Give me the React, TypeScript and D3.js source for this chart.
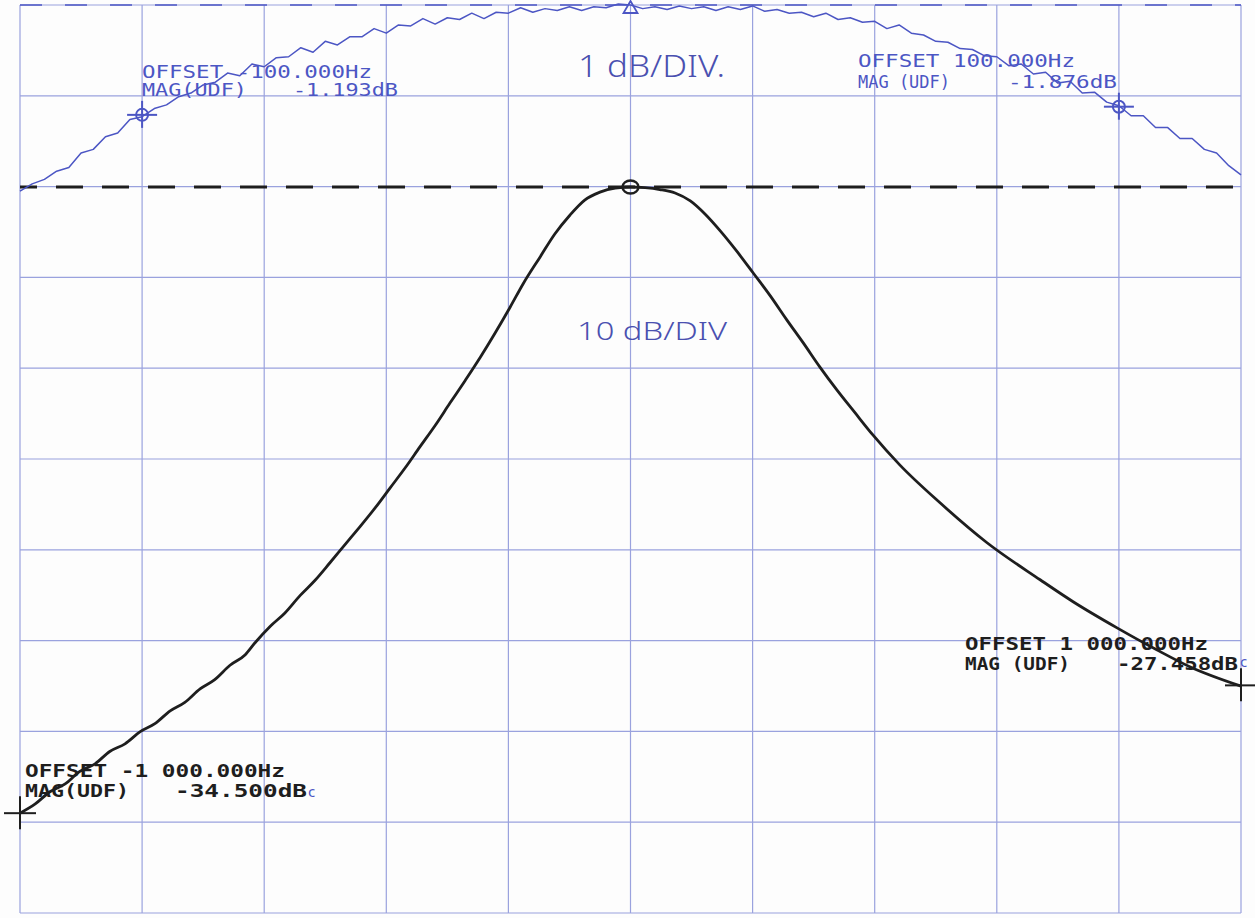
import React from "react";
import * as d3 from "d3";

// ---- data ----
const gridHz = [-1000, -800, -600, -400, -200, 0, 200, 400, 600, 800, 1000];
const gridDbBlue = [0, -1, -2, -3, -4, -5, -6, -7, -8, -9, -10];

// blue trace: offset Hz (span ±125 Hz), dB (1 dB/div, ref at top)
const blueTrace: [number, number][] = [
  [-125, -2.05], [-122.5, -1.97], [-120, -1.92], [-117.5, -1.83], [-115, -1.79], [-112.5, -1.63],
  [-110, -1.59], [-107.5, -1.45], [-105, -1.41], [-102.5, -1.26], [-100, -1.23], [-97.5, -1.14],
  [-95, -1.10], [-92.5, -1.01], [-90, -0.97], [-87.5, -0.88], [-85, -0.85], [-82.5, -0.75],
  [-80, -0.78], [-77.5, -0.65], [-75, -0.68], [-72.5, -0.58], [-70, -0.57], [-67.5, -0.47],
  [-65, -0.52], [-62.5, -0.40], [-60, -0.44], [-57.5, -0.35], [-55, -0.35], [-52.5, -0.26],
  [-50, -0.31], [-47.5, -0.22], [-45, -0.23], [-42.5, -0.15], [-40, -0.21], [-37.5, -0.14],
  [-35, -0.16], [-32.5, -0.09], [-30, -0.15], [-27.5, -0.08], [-25, -0.09], [-22.5, -0.03],
  [-20, -0.08], [-17.5, -0.04], [-15, -0.06], [-12.5, -0.02], [-10, -0.06], [-7.5, -0.02],
  [-5, -0.03], [-2.5, 0.01], [0, 0], [2.5, -0.04], [5, -0.02], [7.5, -0.05], [10, -0.01],
  [12.5, -0.04], [15, -0.02], [17.5, -0.06], [20, -0.02], [22.5, -0.05], [25, -0.01],
  [27.5, -0.07], [30, -0.05], [32.5, -0.09], [35, -0.08], [37.5, -0.13], [40, -0.09],
  [42.5, -0.16], [45, -0.14], [47.5, -0.19], [50, -0.18], [52.5, -0.26], [55, -0.22],
  [57.5, -0.31], [60, -0.33], [62.5, -0.40], [65, -0.41], [67.5, -0.48], [70, -0.49],
  [72.5, -0.56], [75, -0.57], [77.5, -0.67], [80, -0.65], [82.5, -0.76], [85, -0.74],
  [87.5, -0.86], [90, -0.84], [92.5, -0.97], [95, -0.96], [97.5, -1.07], [100, -1.11],
  [102.5, -1.22], [105, -1.22], [107.5, -1.35], [110, -1.35], [112.5, -1.47], [115, -1.47],
  [117.5, -1.59], [120, -1.63], [122.5, -1.77], [125, -1.87],
];

// black trace: offset Hz (span ±1000 Hz), dBc (5 dB/div, ref at 2nd line)
const blackTrace: [number, number][] = [
  [-1000, -34.5], [-975, -33.99], [-951, -33.32], [-926, -32.89], [-902, -32.2], [-877, -31.78],
  [-853, -31.1], [-828, -30.68], [-803, -30.01], [-779, -29.57], [-754, -28.86], [-730, -28.39],
  [-705, -27.65], [-681, -27.14], [-656, -26.35], [-631, -25.77], [-615, -25.11], [-590, -24.2],
  [-566, -23.47], [-541, -22.5], [-517, -21.68], [-492, -20.69], [-468, -19.72], [-443, -18.71],
  [-418, -17.67], [-394, -16.59], [-369, -15.47], [-345, -14.32], [-320, -13.14], [-296, -11.92],
  [-271, -10.67], [-246, -9.38], [-222, -8.06], [-197, -6.61], [-176, -5.34], [-148, -3.85],
  [-124, -2.59], [-99, -1.54], [-75, -0.72], [-50, -0.28], [-25, -0.06], [0, 0],
  [24, -0.04], [48, -0.14], [73, -0.33], [98, -0.77], [122, -1.49], [147, -2.42], [175, -3.58],
  [201, -4.74], [229, -6.0], [256, -7.32], [283, -8.59], [310, -9.91], [338, -11.18],
  [368, -12.45], [397, -13.66], [441, -15.31], [507, -17.4], [584, -19.6], [671, -21.64],
  [725, -22.85], [797, -24.29], [862, -25.5], [916, -26.43], [1000, -27.5],
];

const blueMarkers: [number, number][] = [[-100, -1.21], [100, -1.12]];
const blueRefMarker: [number, number] = [0, 0];
const blackPeakMarker: [number, number] = [0, 0];
const blackCrossMarkers: [number, number][] = [[-1000, -34.5], [1000, -27.458]];

const BLUE = "#4c56c4";
const GRID = "#9aa2de";
const BLACK = "#1e1e1e";
const MONO = "'DejaVu Sans Mono', 'Liberation Mono', monospace";
const HAND = "'Noto Sans', 'DejaVu Sans', sans-serif";

export default function App() {
  const W = 1255, H = 918;
  const xBlack = d3.scaleLinear().domain([-1000, 1000]).range([20, 1241]);
  const yBlack = d3.scaleLinear().domain([0, -40]).range([187, 913]);
  const xBlue = d3.scaleLinear().domain([-125, 125]).range([20, 1241]);
  const yBlue = d3.scaleLinear().domain([0, -10]).range([5, 913]);

  const blueLine = d3.line<[number, number]>()
    .x((d) => xBlue(d[0])).y((d) => yBlue(d[1])).curve(d3.curveLinear);
  const blackLine = d3.line<[number, number]>()
    .x((d) => xBlack(d[0])).y((d) => yBlack(d[1])).curve(d3.curveMonotoneX);

  const x0 = xBlack(-1000), x1 = xBlack(1000);
  const yTop = yBlue(0), yBot = yBlue(-10);
  const yRef = yBlack(0);

  const monoText = (x: number, y: number, s: string, len: number, color: string, bold: boolean) => (
    <text x={x} y={y} fontFamily={MONO} fontSize={17} fill={color}
      fontWeight={bold ? "bold" : "normal"} textLength={len} lengthAdjust="spacingAndGlyphs">{s}</text>
  );

  return (
    <svg width={W} height={H} style={{ position: "absolute", left: 0, top: 0, background: "#fff" }}>
      <rect x={0} y={0} width={W} height={H} fill="#fdfdfd" />
      {/* grid */}
      <g stroke={GRID} strokeWidth={1.2}>
        {gridHz.map((f) => (
          <line key={"v" + f} x1={xBlack(f)} x2={xBlack(f)} y1={yTop} y2={yBot} />
        ))}
        {gridDbBlue.map((v) => (
          <line key={"h" + v} x1={x0} x2={x1} y1={yBlue(v)} y2={yBlue(v)} />
        ))}
      </g>
      {/* blue reference dashes at top */}
      <line x1={x0} x2={x1} y1={yTop} y2={yTop} stroke={BLUE} strokeWidth={2}
        strokeDasharray="22 23" opacity={0.75} />
      {/* black reference dashed line */}
      <line x1={x0} x2={x1} y1={yRef} y2={yRef} stroke={BLACK} strokeWidth={3}
        strokeDasharray="27 19" strokeDashoffset={10} />

      {/* traces */}
      <path d={blueLine(blueTrace) || ""} fill="none" stroke={BLUE} strokeWidth={1.5} strokeLinejoin="round" />
      <path d={blackLine(blackTrace) || ""} fill="none" stroke={BLACK} strokeWidth={2.8} strokeLinejoin="round" />

      {/* blue markers */}
      {blueMarkers.map((m, i) => {
        const cx = xBlue(m[0]), cy = yBlue(m[1]);
        return (
          <g key={"bm" + i} stroke={BLUE} strokeWidth={2} fill="none">
            <circle cx={cx} cy={cy} r={6} />
            <line x1={cx - 15} x2={cx + 15} y1={cy} y2={cy} />
            <line x1={cx} x2={cx} y1={cy - 14} y2={cy + 13} />
          </g>
        );
      })}
      {(() => {
        const cx = xBlue(blueRefMarker[0]), cy = yBlue(blueRefMarker[1]);
        return (
          <path d={`M${cx - 7},${cy + 8} L${cx + 7},${cy + 8} L${cx},${cy - 4} Z`}
            fill="none" stroke={BLUE} strokeWidth={1.8} />
        );
      })()}

      {/* black markers */}
      {(() => {
        const cx = xBlack(blackPeakMarker[0]), cy = yBlack(blackPeakMarker[1]);
        return (
          <g stroke={BLACK} strokeWidth={2.4} fill="none">
            <ellipse cx={cx} cy={cy} rx={8} ry={6.5} />
            <line x1={cx - 6} x2={cx + 6} y1={cy} y2={cy} strokeWidth={1.5} />
          </g>
        );
      })()}
      {blackCrossMarkers.map((m, i) => {
        const cx = xBlack(m[0]), cy = yBlack(m[1]);
        return (
          <g key={"cm" + i} stroke={BLACK} strokeWidth={2}>
            <line x1={cx - 16} x2={cx + 16} y1={cy} y2={cy} />
            <line x1={cx} x2={cx} y1={cy - 17} y2={cy + 16} />
          </g>
        );
      })}

      {/* blue readouts */}
      {monoText(142, 78, "OFFSET -100.000Hz", 230, BLUE, false)}
      {monoText(142, 96, "MAG(UDF)", 105, BLUE, false)}
      {monoText(293, 96, "-1.193dB", 105, BLUE, false)}
      {monoText(858, 67, "OFFSET 100.000Hz", 217, BLUE, false)}
      {monoText(858, 88, "MAG (UDF)", 92, BLUE, false)}
      {monoText(1008, 88, "-1.876dB", 109, BLUE, false)}

      {/* black readouts */}
      {monoText(25, 777, "OFFSET -1 000.000Hz", 260, BLACK, true)}
      {monoText(25, 797, "MAG(UDF)", 104, BLACK, true)}
      {monoText(175, 797, "-34.500dB", 132, BLACK, true)}
      <text x={308} y={797} fontFamily={HAND} fontSize={15} fill={BLUE}>c</text>
      {monoText(965, 650, "OFFSET 1 000.000Hz", 243, BLACK, true)}
      {monoText(965, 670, "MAG (UDF)", 105, BLACK, true)}
      {monoText(1117, 670, "-27.458dB", 121, BLACK, true)}
      <text x={1240} y={667} fontFamily={HAND} fontSize={15} fill={BLUE}>c</text>

      {/* handwritten scale notes */}
      <text x={578} y={77} fontFamily={HAND} fontSize={32} fill="#4a50b0"
        textLength={147} lengthAdjust="spacingAndGlyphs" fontWeight={300}>1 dB/DIV.</text>
      <text x={577} y={340} fontFamily={HAND} fontSize={25} fill="#4a50b0"
        textLength={150} lengthAdjust="spacingAndGlyphs" fontWeight={300}>10 dB/DIV</text>
    </svg>
  );
}
